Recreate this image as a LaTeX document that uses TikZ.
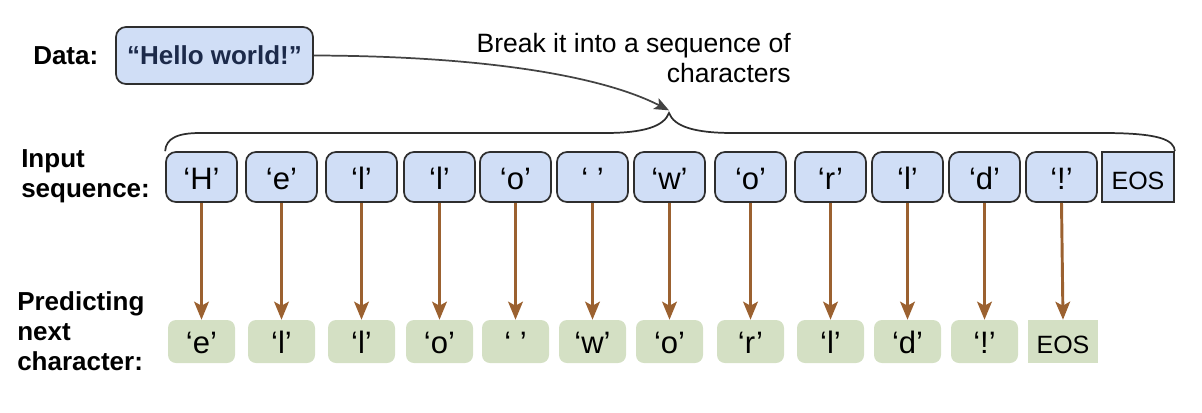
\documentclass[tikz,border=0pt]{standalone}
\usepackage{fontspec}
\setmainfont{Liberation Sans}
\usetikzlibrary{arrows.meta}
\definecolor{inblue}{HTML}{D0DEF6}
\definecolor{outgreen}{HTML}{D4E0C4}
\definecolor{arrbrown}{HTML}{9B6130}
\definecolor{edgegray}{HTML}{2E2E2E}
\definecolor{navy}{HTML}{1C2A4A}
\begin{document}
\begin{tikzpicture}[x=0.75pt,y=-0.75pt,
  lbl/.style={font=\fontsize{19.5}{22.5}\selectfont\bfseries, anchor=base west, inner sep=0pt},
  note/.style={font=\fontsize{19.9}{23}\selectfont, anchor=base east, inner sep=0pt},
  inbox/.style={draw=edgegray, line width=1.3pt, fill=inblue, rounded corners=7.5pt,
    minimum width=53.25pt, minimum height=37.5pt, inner sep=0pt,
    text height=18pt, text depth=0pt, font=\fontsize{23.25}{27}\selectfont},
  eosin/.style={inbox, sharp corners, minimum width=54pt, font=\fontsize{18.75}{22}\selectfont},
  outbox/.style={fill=outgreen, rounded corners=6pt,
    minimum width=50.25pt, minimum height=32.25pt, inner sep=0pt,
    text height=17.25pt, text depth=0pt, font=\fontsize{23.25}{27}\selectfont},
  eosout/.style={outbox, sharp corners, minimum width=52.5pt, font=\fontsize{18.75}{22}\selectfont},
  flow/.style={draw=arrbrown, line width=2.2pt, -{Stealth[length=13.5pt,width=11pt,inset=3pt]}},
  brace/.style={draw=edgegray, line width=1.3pt},
  split/.style={draw=edgegray!90, line width=1.3pt, -{Stealth[length=11pt,width=9pt,inset=2.5pt]}},
  databox/.style={draw=edgegray, line width=1.3pt, fill=inblue, rounded corners=7.5pt,
    minimum width=147.75pt, minimum height=42.75pt, inner sep=0pt,
    text height=14pt, text depth=0pt, font=\fontsize{19.5}{22.5}\selectfont\bfseries, text=navy}
]
\useasboundingbox (0,0) rectangle (1202,412);

% labels
\node[lbl] (ldata) at (33,64) {Data:};
\node[lbl] (lin1) at (21,167) {Input};
\node[lbl] (lin2) at (21,197) {sequence:};
\node[lbl] (lpr1) at (17,310) {Predicting};
\node[lbl] (lpr2) at (17,340) {next};
\node[lbl] (lpr3) at (17,370) {character:};

% data box
\node[databox] (data) at (214.5,55.5) {“Hello world!”};

% note
\node[note] (note1) at (791,52) {Break it into a sequence of};
\node[note] (note2) at (791,82) {characters};

% input boxes
\foreach \xx/\c [count=\i] in {201.5/H,281.5/e,361.5/l,439.5/l,515.5/o,592.5/{\ },669.5/w,750.5/o,830.5/r,907.5/l,984.5/d,1061.5/!}{
  \node[inbox] (in\i) at (\xx,177) {‘\c’};
}
\node[eosin] (in13) at (1138,177) {EOS};

% output boxes
\foreach \xx/\c [count=\i] in {201.5/e,281.5/l,361.5/l,439.5/o,515.5/{\ },592.5/w,669.5/o,750.5/r,830.5/l,907.5/d,984.5/!}{
  \node[outbox] (out\i) at (\xx,341.5) {‘\c’};
}
\node[eosout] (out12) at (1063,341.5) {EOS};

% arrows
\foreach \i in {1,...,12}{
  \draw[flow] (in\i.south) -- (out\i.north);
}

% brace
\coordinate (tip) at (669,113);
\draw[brace] (in1.north west) .. controls (166,138) and (178,133) .. (200,133)
  -- (605,133) .. controls (645,133) and (664,126) .. (tip)
  .. controls (674,126) and (693,133) .. (733,133)
  -- (1103,133) .. controls (1160,133) and (1174,140) .. (in13.north east);

% split arrow
\draw[split] (data.east) .. controls (480,56) and (600,75) .. ([yshift=2pt]tip);
\end{tikzpicture}
\end{document}
